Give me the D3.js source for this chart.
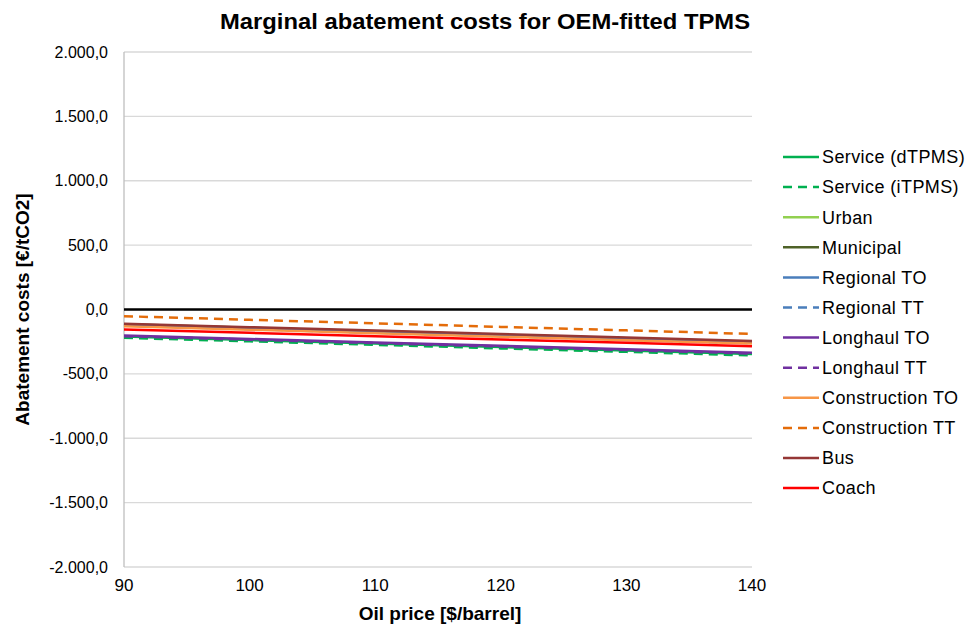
<!DOCTYPE html>
<html>
<head>
<meta charset="utf-8">
<script src="https://cdn.jsdelivr.net/npm/d3@7"></script>
<style>
  body { margin: 0; background: #fff; }
  text { font-family: "Liberation Sans", Arial, sans-serif; }
</style>
</head>
<body>
<div id="vis"></div>
<script>
// Chart data
const oilPrice = [90, 100, 110, 120, 130, 140]
const seriesNames = ["Service (dTPMS)", "Service (iTPMS)", "Urban", "Municipal", "Regional TO", "Regional TT",
    "Longhaul TO", "Longhaul TT", "Construction TO", "Construction TT", "Bus", "Coach"]
const serviceD = [-210, -237, -264, -291, -318, -345]
const serviceI = [-220, -247, -274, -302, -329, -357]
const urban = [-118, -145, -172, -198, -225, -252]
const municipal = [-115, -142, -169, -196, -223, -250]
const regionalTO = [-120, -147, -174, -201, -228, -255]
const regionalTT = [-125, -152, -180, -207, -234, -262]
const longhaulTO = [-202, -229, -256, -282, -309, -336]
const longhaulTT = [-207, -234, -261, -288, -315, -342]
const constructionTO = [-130, -157, -184, -211, -238, -265]
const constructionTT = [-52, -80, -107, -135, -162, -190]
const bus = [-110, -137, -164, -191, -218, -245]
const coach = [-155, -181, -207, -233, -259, -285]
const yTicks = [-2000, -1500, -1000, -500, 0, 500, 1000, 1500, 2000]

const seriesValues = [serviceD, serviceI, urban, municipal, regionalTO, regionalTT,
    longhaulTO, longhaulTT, constructionTO, constructionTT, bus, coach]
const colors = ["#00b050", "#00b050", "#92d050", "#4f6228", "#4a7ebb", "#4a7ebb",
    "#7030a0", "#7030a0", "#f79646", "#e46c0a", "#953735", "#ff0000"]
const dashed = [false, true, false, false, false, true, false, true, false, true, false, false]

const series = seriesNames.map((name, i) => ({
    name: name,
    color: colors[i],
    dashed: dashed[i],
    values: seriesValues[i].map((v, j) => ({x: oilPrice[j], y: v}))
}))

const width = 975, height = 630
const plot = {left: 124, right: 752, top: 52, bottom: 567}

var x_scale = d3.scaleLinear()
    .domain([90, 140])
    .range([plot.left, plot.right])

var y_scale = d3.scaleLinear()
    .domain([-2000, 2000])
    .range([plot.bottom, plot.top])

const fmt = v => d3.format(",.1f")(v).replace(/,/g, "#").replace(".", ",").replace(/#/g, ".").replace("−", "-")

let svg = d3.select("#vis")
    .append("svg")
    .attr("width", width)
    .attr("height", height)

// gridlines
svg.append("g")
    .selectAll("line")
    .data(yTicks)
    .enter()
    .append("line")
    .attr("x1", plot.left)
    .attr("x2", plot.right)
    .attr("y1", d => y_scale(d))
    .attr("y2", d => y_scale(d))
    .style("stroke", "#d9d9d9")
    .style("stroke-width", 1.3)

// left axis line
svg.append("line")
    .attr("x1", plot.left).attr("x2", plot.left)
    .attr("y1", plot.top).attr("y2", plot.bottom)
    .style("stroke", "#bfbfbf")
    .style("stroke-width", 1.3)

// y tick labels
svg.append("g")
    .selectAll("text")
    .data(yTicks)
    .enter()
    .append("text")
    .attr("x", plot.left - 16)
    .attr("y", d => y_scale(d))
    .attr("dy", "0.35em")
    .attr("text-anchor", "end")
    .style("font-size", "16px")
    .style("fill", "#000")
    .text(d => fmt(d))

// x tick labels
svg.append("g")
    .selectAll("text")
    .data(x_scale.ticks(5))
    .enter()
    .append("text")
    .attr("x", d => x_scale(d))
    .attr("y", 591)
    .attr("text-anchor", "middle")
    .style("font-size", "17px")
    .text(d => d)

// zero line
svg.append("line")
    .attr("x1", plot.left).attr("x2", plot.right)
    .attr("y1", y_scale(0)).attr("y2", y_scale(0))
    .style("stroke", "#000")
    .style("stroke-width", 2.5)

// series lines
const line = d3.line()
    .x(d => x_scale(d.x))
    .y(d => y_scale(d.y))

svg.append("g")
    .selectAll("path")
    .data(series)
    .enter()
    .append("path")
    .attr("d", d => line(d.values))
    .style("fill", "none")
    .style("stroke", d => d.color)
    .style("stroke-width", 2.5)
    .style("stroke-dasharray", d => d.dashed ? "9,6" : null)

// legend
const legend = svg.append("g")
    .selectAll("g")
    .data(series)
    .enter()
    .append("g")
    .attr("transform", (d, i) => `translate(783, ${157 + i * 30.1})`)

legend.append("line")
    .attr("x1", 0).attr("x2", 36)
    .style("stroke", d => d.color)
    .style("stroke-width", 2.5)
    .style("stroke-dasharray", d => d.dashed ? "9,6" : null)

legend.append("text")
    .attr("x", 39)
    .attr("dy", "0.35em")
    .style("font-size", "18px")
    .style("letter-spacing", "0.4px")
    .text(d => d.name)

// titles
svg.append("text")
    .attr("x", 485)
    .attr("y", 29)
    .attr("text-anchor", "middle")
    .attr("textLength", 530)
    .attr("lengthAdjust", "spacingAndGlyphs")
    .style("font-size", "22px")
    .style("font-weight", "bold")
    .text("Marginal abatement costs for OEM-fitted TPMS")

svg.append("text")
    .attr("x", 440)
    .attr("y", 620)
    .attr("text-anchor", "middle")
    .style("font-size", "19px")
    .style("font-weight", "bold")
    .text("Oil price [$/barrel]")

svg.append("text")
    .attr("transform", `translate(29, ${y_scale(0)}) rotate(-90)`)
    .attr("text-anchor", "middle")
    .style("font-size", "19px")
    .style("font-weight", "bold")
    .text("Abatement costs [€/tCO2]")
</script>
</body>
</html>
